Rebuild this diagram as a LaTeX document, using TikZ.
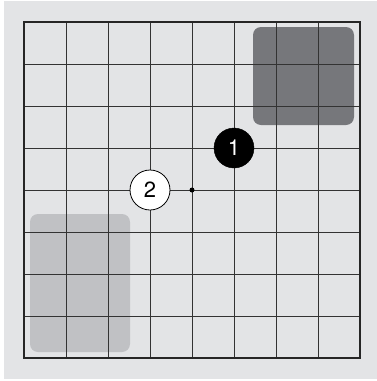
\documentclass[tikz,border=0pt]{standalone}
\usepackage{fontspec}
\setmainfont{TeX Gyre Heros}
\definecolor{bg}{HTML}{E3E4E6}
\definecolor{darkzone}{HTML}{76777B}
\definecolor{lightzone}{HTML}{C0C1C4}
\definecolor{gridc}{HTML}{333333}
\tikzset{
  stoneblack/.style={circle, fill=black, draw=black, minimum size=40pt, inner sep=0pt, text=white, font=\fontsize{22}{22}\selectfont},
  stonewhite/.style={circle, fill=white, draw=black, line width=0.8pt, minimum size=40pt, inner sep=0pt, text=black, font=\fontsize{22}{22}\selectfont},
  zone/.style={rounded corners=8pt},
}
\begin{document}
\begin{tikzpicture}[x=1pt,y=-1pt]
\useasboundingbox (0,0) rectangle (377,381);
\fill[white] (0,0) rectangle (377,381);
\fill[bg] (4,1) rectangle (377,379);
\fill[darkzone, zone] (253,27) rectangle (354,125);
\fill[lightzone, zone] (30,214) rectangle (130,352);
\foreach \i in {1,...,7} {
  \draw[gridc, line width=0.9pt] ({24+42*\i},22) -- ({24+42*\i},358);
  \draw[gridc, line width=0.9pt] (24,{22+42*\i}) -- (360,{22+42*\i});
}
\draw[black!85, line width=2pt] (24,22) rectangle (360,358);
\node[circle, fill=black, minimum size=5pt, inner sep=0pt] (dot) at (192,190) {};
\node[stoneblack] (s1) at (234,148) {1};
\node[stonewhite] (s2) at (150,190) {2};
\end{tikzpicture}
\end{document}
